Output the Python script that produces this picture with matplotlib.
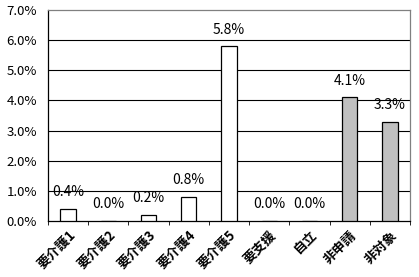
import matplotlib
matplotlib.use("Agg")
import matplotlib.pyplot as plt
import numpy as np

plt.rcParams['font.family'] = ['Noto Sans CJK JP', 'DejaVu Sans']

categories = ['要介護1', '要介護2', '要介護3', '要介護4', '要介護5', '要支援', '自立', '非申請', '非対象']
values = [0.4, 0.0, 0.2, 0.8, 5.8, 0.0, 0.0, 4.1, 3.3]
colors = ['white'] * 7 + ['#C0C0C0'] * 2
yticks = [0, 1, 2, 3, 4, 5, 6, 7]

fig = plt.figure(figsize=(4.19, 2.77), dpi=100)
ax = fig.add_axes([0.1146, 0.2022, 0.8639, 0.7617])

x = np.arange(len(categories))
ax.bar(x, values, width=0.38, color=colors, edgecolor='black', linewidth=0.9, zorder=3)

for xi, v in zip(x, values):
    ax.annotate('%.1f%%' % v, (xi, v), xytext=(0, 12), textcoords='offset points',
                ha='center', va='center', fontsize=10, zorder=4)

ax.set_xlim(-0.5, len(categories) - 0.5)
ax.set_ylim(0, 7)
ax.set_yticks(yticks)
ax.set_yticklabels(['%.1f%%' % t for t in yticks], fontsize=9.5)
ax.tick_params(axis='y', length=0, pad=8)

for t in yticks[1:-1]:
    ax.axhline(t, color='black', linewidth=0.8, zorder=1)

ax.set_xticks(x)
ax.set_xticklabels(categories, rotation=45, ha='right', rotation_mode='anchor',
                   fontsize=9.5, fontweight='bold')
ax.tick_params(axis='x', length=0, pad=5)
ax.set_xticks(np.arange(-0.5, len(categories), 1.0), minor=True)
ax.tick_params(axis='x', which='minor', length=3, direction='out', color='black')

ax.spines['left'].set_color('black')
ax.spines['bottom'].set_color('black')
ax.spines['top'].set_color('#808080')
ax.spines['right'].set_color('#808080')
for s in ax.spines.values():
    s.set_linewidth(0.9)

fig.savefig('out.png', dpi=100)
